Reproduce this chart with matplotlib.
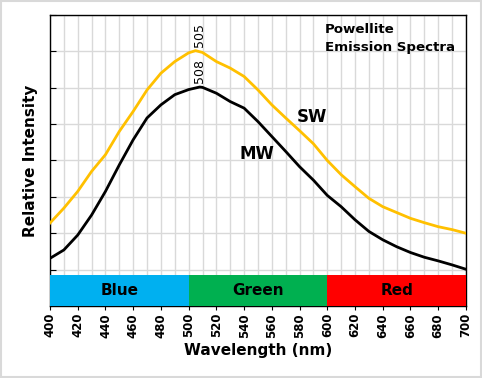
import matplotlib.pyplot as plt
from matplotlib.patches import Rectangle

# wavelengths, every 10 nm (plus the peak positions)
sw_nm = [400, 410, 420, 430, 440, 450, 460, 470, 480, 490, 500, 505, 510, 520, 530, 540, 550, 560,
         570, 580, 590, 600, 610, 620, 630, 640, 650, 660, 670, 680, 690, 700]
sw_val = [1.28, 1.69, 2.15, 2.70, 3.16, 3.80, 4.35, 4.94, 5.40, 5.72, 5.96, 6.02, 5.97, 5.72, 5.54,
          5.31, 4.94, 4.53, 4.17, 3.82, 3.46, 3.00, 2.61, 2.28, 1.96, 1.73, 1.57, 1.41, 1.29, 1.18,
          1.10, 1.00]

mw_nm = [400, 410, 420, 430, 440, 450, 460, 470, 480, 490, 500, 508, 510, 520, 530, 540, 550, 560,
         570, 580, 590, 600, 610, 620, 630, 640, 650, 660, 670, 680, 690, 700]
mw_val = [0.31, 0.54, 0.95, 1.50, 2.15, 2.88, 3.57, 4.17, 4.53, 4.81, 4.95, 5.02, 5.01, 4.85, 4.62,
          4.44, 4.07, 3.66, 3.25, 2.83, 2.46, 2.04, 1.73, 1.37, 1.05, 0.82, 0.63, 0.47, 0.34, 0.24,
          0.13, 0.01]

bands = ['Blue', 'Green', 'Red']
band_edges = [400, 500, 600, 700]
band_colors = ['#00B0F0', '#00B050', '#FF0000']

xticks = list(range(400, 701, 20))

fig = plt.figure(figsize=(4.82, 3.78), dpi=100)
ax = fig.add_axes([0.1037, 0.1905, 0.863, 0.7698])

ax.set_xlim(400, 700)
ax.set_ylim(-1, 7)

# grid
ax.set_xticks(range(400, 701, 10), minor=True)
ax.set_xticks(xticks)
ax.set_yticks(range(0, 8))
ax.grid(True, which='both', color='#d9d9d9', lw=1)
ax.set_axisbelow(True)

# colour bands
for i, name in enumerate(bands):
    x0, x1 = band_edges[i], band_edges[i + 1]
    ax.add_patch(Rectangle((x0, -1), x1 - x0, 0.86, color=band_colors[i], zorder=3, lw=0))
    ax.text((x0 + x1) / 2, -0.57, name, ha='center', va='center', fontsize=11,
            fontweight='bold', zorder=4)

ax.plot(sw_nm, sw_val, color='#FFC000', lw=2, zorder=5)
ax.plot(mw_nm, mw_val, color='black', lw=2, zorder=5)

ax.text(508, 6.12, '505', rotation=90, ha='center', va='bottom', fontsize=9)
ax.text(508, 5.12, '508', rotation=90, ha='center', va='bottom', fontsize=9)
ax.text(589, 4.2, 'SW', ha='center', va='center', fontsize=12, fontweight='bold')
ax.text(549, 3.17, 'MW', ha='center', va='center', fontsize=12, fontweight='bold')
ax.text(598, 6.78, 'Powellite\nEmission Spectra', ha='left', va='top', fontsize=9.6,
        fontweight='bold', linespacing=1.45)

ax.set_yticklabels([])
ax.tick_params(axis='y', which='both', direction='in', length=4, left=True)
ax.tick_params(axis='x', which='minor', length=0)
ax.tick_params(axis='x', which='major', direction='out', length=3, labelrotation=90,
               labelsize=8.5, pad=2)
for lab in ax.get_xticklabels():
    lab.set_fontweight('bold')

for sp in ax.spines.values():
    sp.set_color('black')
    sp.set_linewidth(1)

ax.set_xlabel('Wavelength (nm)', fontsize=11, fontweight='bold', labelpad=4)
ax.set_ylabel('Relative Intensity', fontsize=11, fontweight='bold', labelpad=5)

fig.patches.append(Rectangle((0.002, 0.003), 0.996, 0.994, transform=fig.transFigure,
                             fill=False, edgecolor='#d9d9d9', lw=1.5))

fig.savefig('out.png', dpi=100)
